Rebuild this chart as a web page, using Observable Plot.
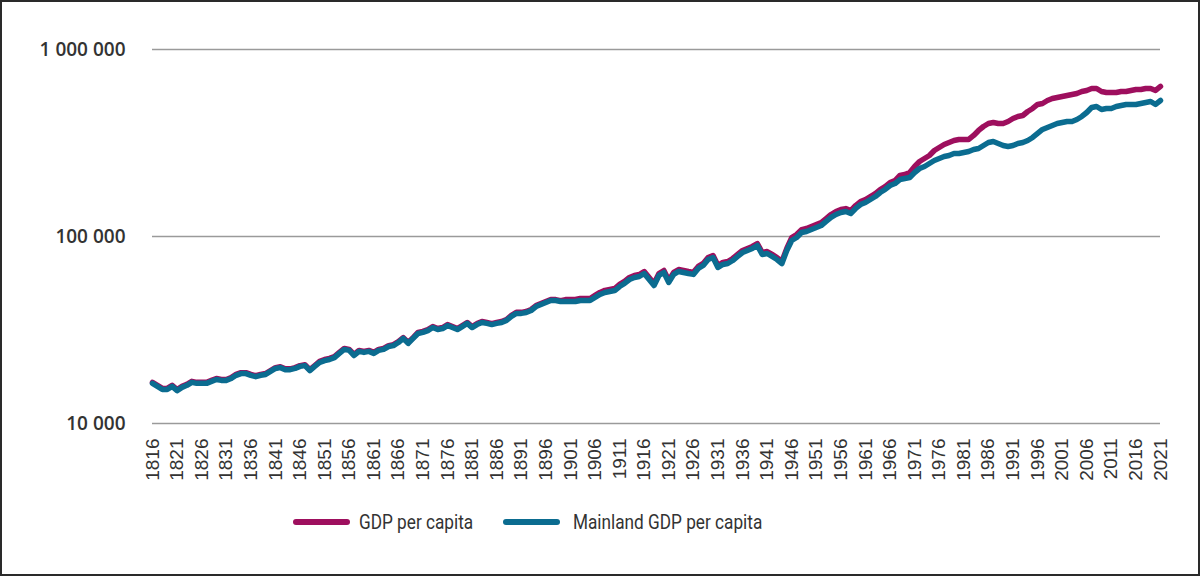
<!DOCTYPE html>
<html>
<head>
<meta charset="utf-8">
<script src="https://cdn.jsdelivr.net/npm/d3@7"></script>
<script src="https://cdn.jsdelivr.net/npm/@observablehq/plot@0.6"></script>
<style>
  html, body { margin: 0; padding: 0; background: #fff; }
  #frame { width: 1200px; height: 576px; box-sizing: border-box; border: 2px solid #2a2a2a; position: relative; overflow: hidden; background: #fff; }
  #chart svg { display: block; }
  #legend { position: absolute; left: 0; top: 492px; width: 1196px; height: 56px;
    font-family: "Roboto", sans-serif; font-size: 20px; color: #333; }
  .sw { position: absolute; top: 25px; width: 57px; height: 6px; border-radius: 3px; }
  .lt { position: absolute; top: 14px; line-height: 28px; white-space: nowrap; transform: scaleX(0.86); transform-origin: 0 50%; }
</style>
</head>
<body>
<div id="frame">
  <div id="chart"></div>
  <div id="legend"></div>
</div>
<script>
const firstYear = 1816;
const seriesNames = ["GDP per capita", "Mainland GDP per capita"];
const seriesColors = ["#9e0f5e", "#0b6c90"];
const yTicks = [10000, 100000, 1000000];
const xTickYears = d3.range(1816, 2022, 5);

const gdp = [
16600,16000,15400,15400,16000,15200,15800,16200,16800,16600, // 1816-1825
16600,16600,17000,17400,17200,17200,17600,18300,18700,18700, // 1826-1835
18300,18000,18300,18500,19200,19900,20100,19600,19600,19900, // 1836-1845
20400,20600,19400,20400,21500,22000,22300,22800,24000,25200, // 1846-1855
24900,23400,24600,24300,24600,24000,24900,25200,26100,26400, // 1856-1865
27400,28800,27100,28800,30700,31100,31800,33000,32200,32600, // 1866-1875
33800,33000,32200,33400,34700,33000,34200,35100,34700,34200, // 1876-1885
34700,35100,36000,37900,39300,39300,39700,40700,42700,43800, // 1886-1895
44900,46000,46000,45400,46000,46000,46000,46600,46600,46600, // 1896-1905
48400,50200,51500,52100,52700,55400,57500,60400,61900,62600, // 1906-1915
65000,60400,56100,63400,65800,58200,64300,66600,65800,65000, // 1916-1925
64300,69200,71800,77200,79100,70000,72700,73500,76300,80200, // 1926-1935
84200,86300,88500,91700,82100,83100,80200,77200,73500,86300, // 1936-1945
98700,102500,108900,110300,113000,115800,118700,124800,131100,136000, // 1946-1955
139400,141000,137600,146400,153800,157600,163500,169700,178300,185000, // 1956-1965
194300,199100,211900,214500,219900,236800,251800,261300,271100,288300, // 1966-1975
299200,310400,318200,326200,330200,330200,330200,346900,368900,387500, // 1976-1985
402100,407100,402100,402100,412100,427600,438300,443700,466100,483700, // 1986-1995
508100,514400,533700,547000,553800,560700,567700,574700,581800,596300, // 1996-2005
603700,618700,618700,596300,589000,589000,589000,596300,596300,603700, // 2006-2015
611200,611200,618700,618700,603700,634200                              // 2016-2021
];

const mainland = [
16400,15800,15200,15200,15800,15000,15600,16000,16600,16400, // 1816-1825
16400,16400,16800,17200,17000,17000,17400,18100,18500,18500, // 1826-1835
18100,17800,18100,18300,19000,19700,19900,19400,19400,19700, // 1836-1845
20200,20400,19200,20200,21200,21700,22000,22500,23700,24900, // 1846-1855
24600,23100,24300,24000,24300,23700,24600,24900,25800,26100, // 1856-1865
27100,28500,26800,28500,30300,30700,31400,32600,31800,32200, // 1866-1875
33400,32600,31800,33000,34300,32600,33800,34700,34300,33800, // 1876-1885
34300,34700,35600,37400,38800,38800,39200,40200,42200,43300, // 1886-1895
44400,45500,45500,44900,44900,44900,44900,45500,45500,45500, // 1896-1905
47200,49000,50200,50800,51400,54000,56100,58900,60400,61100, // 1906-1915
63400,58900,54700,61900,64200,56800,62700,65000,64200,63400, // 1916-1925
62700,67500,70000,75300,77200,68300,70900,71700,74400,78200, // 1926-1935
82100,84200,86300,89500,80100,81100,78200,75300,71700,84200, // 1936-1945
95200,98800,105000,106400,109000,111700,114500,120300,126400,131100, // 1946-1955
134400,136000,132700,141200,148300,152000,157700,163600,171900,178400, // 1956-1965
187400,192000,201700,204200,206800,219900,231000,236800,245700,254900, // 1966-1975
261300,267800,271100,277900,277900,281300,284800,291900,295500,306600, // 1976-1985
318200,322200,314300,306600,302900,306600,314300,318200,326200,338500, // 1986-1995
355600,373500,382800,392300,402100,407100,412100,412100,422400,438300, // 1996-2005
460400,489700,495800,477800,483700,483700,495800,501900,508100,508100, // 2006-2015
508100,514400,520700,527200,508100,533700                              // 2016-2021
];

const rows = [];
[gdp, mainland].forEach((arr, si) => arr.forEach((v, i) => rows.push({year: firstYear + i, value: v, series: seriesNames[si]})));

const fmt = d => d3.format(",")(d).replace(/,/g, " ");

const chart = Plot.plot({
  width: 1196,
  height: 492,
  marginLeft: 150,
  marginRight: 38,
  marginTop: 47,
  marginBottom: 71,
  style: {background: "transparent", overflow: "visible"},
  x: {domain: [1816, 2021], label: null},
  y: {type: "log", domain: [10000, 1000000], label: null},
  color: {domain: seriesNames, range: seriesColors},
  marks: [
    Plot.gridY(yTicks, {stroke: "#9a9a9a", strokeOpacity: 1, strokeWidth: 1.3}),
    Plot.axisY(yTicks, {tickSize: 0, tickPadding: 27, tickFormat: fmt, fontSize: 19, fontWeight: 600, fontFamily: "Open Sans, sans-serif", fill: "#333", label: null}),
    Plot.axisX(xTickYears, {tickSize: 0, tickPadding: 15, tickRotate: -90, tickFormat: d => String(d), fontSize: 19, fontFamily: "Liberation Sans, Arial, sans-serif", fill: "#333", label: null}),
    Plot.line(rows, {x: "year", y: "value", stroke: "series", z: "series", strokeWidth: 5.5, strokeLinecap: "round", strokeLinejoin: "round"})
  ]
});
document.getElementById("chart").appendChild(chart);

const legend = document.getElementById("legend");
const swatchLeft = [291, 501];
const textLeft = [357, 571];
seriesNames.forEach((name, i) => {
  const sw = document.createElement("div");
  sw.className = "sw";
  sw.style.left = swatchLeft[i] + "px";
  sw.style.background = seriesColors[i];
  const t = document.createElement("span");
  t.className = "lt";
  t.style.left = textLeft[i] + "px";
  t.textContent = name;
  legend.appendChild(sw);
  legend.appendChild(t);
});
</script>
</body>
</html>
